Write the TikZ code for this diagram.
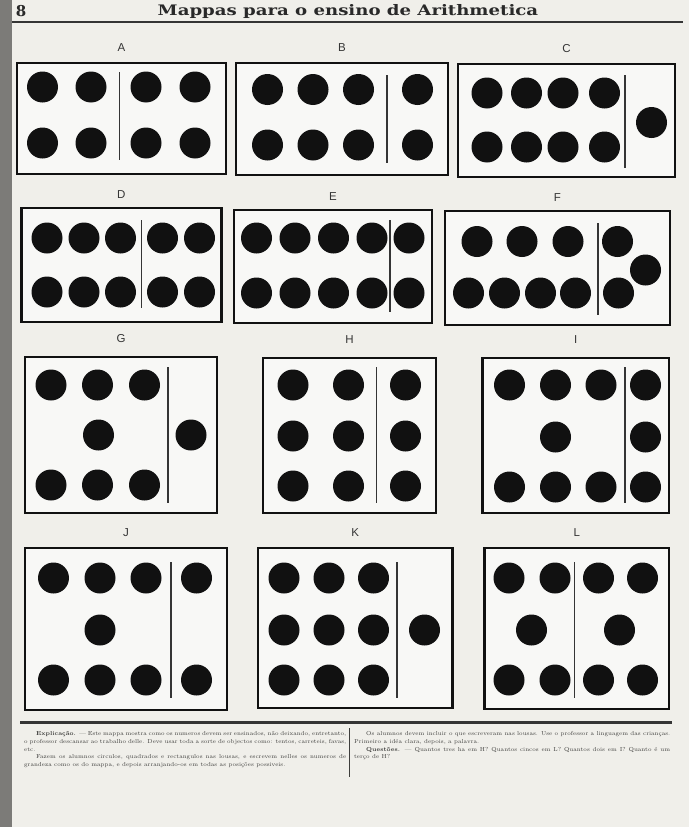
\documentclass[tikz,border=0pt]{standalone}
\usepackage{fontspec}
\usepackage{graphicx}
\newfontfamily\headfont{DejaVu Serif}
\newfontfamily\tagfont{Liberation Sans}
\usetikzlibrary{positioning}
\definecolor{paper}{HTML}{F0EFEA}
\definecolor{edge}{HTML}{7C7B78}
\definecolor{ink}{HTML}{111111}
\definecolor{print}{HTML}{3E3E3C}

\tikzset{
  panel/.style={draw=ink,line width=2.6pt,fill=white!55!paper,inner sep=0pt},
  tag/.style={font=\tagfont\fontsize{11.5}{13}\selectfont,text=ink!85,inner sep=0pt},
  dot/.style={circle,fill=ink,inner sep=0pt,minimum size=31pt},
  divider/.style={draw=ink!85,line width=1.1pt},
  note/.style={font=\fontsize{5.8}{7.9}\selectfont,text=print,align=justify,inner sep=0pt,anchor=north west}
}

\begin{document}
\begin{tikzpicture}[x=1pt,y=-1pt]
  \useasboundingbox (0,0) rectangle (689,827);
  \fill[paper] (0,0) rectangle (689,827);
  \fill[edge] (0,0) rectangle (12,827);

  % heading
  \node[font=\headfont\bfseries\fontsize{15}{17}\selectfont,text=ink!90] (page) at (21,11) {8};
  \node[font=\headfont\bfseries\fontsize{14.5}{16}\selectfont,text=ink!90] (title) at (348,11) {\scalebox{1.25}[1]{Mappas para o ensino de Arithmetica}};
  \draw[ink!85,line width=2pt] (12,22) -- (683,22);

  % row 1
  \node[panel,minimum width=209pt,minimum height=111pt] (boxA) at (121.5,118.5) {};
  \node[panel,minimum width=212pt,minimum height=112pt] (boxB) at (342,119) {};
  \node[panel,minimum width=217pt,minimum height=113pt] (boxC) at (566.5,120.5) {};
  \foreach \n in {A,B,C} \node[tag,above=10pt of box\n] (tag\n) {\n};

  \foreach \x in {42.5,91,146,195}{
    \foreach \y in {87,143}{\node[dot] (dA-\x-\y) at (\x,\y) {};}
  }
  \draw[divider] (119.5,72) -- (119.5,160);

  \foreach \x in {267.5,313,358.5,417.5}{
    \foreach \y in {89.5,145}{\node[dot] (dB-\x-\y) at (\x,\y) {};}
  }
  \draw[divider] (387,75) -- (387,163);

  \foreach \x in {487,526.5,563,604.5}{
    \foreach \y in {93,147}{\node[dot] (dC-\x-\y) at (\x,\y) {};}
  }
  \node[dot] (dCx) at (651.5,122.5) {};
  \draw[divider] (625,75) -- (625,168);

  % row 2
  \node[panel,minimum width=200pt,minimum height=114pt] (boxD) at (121.3,265) {};
  \node[panel,minimum width=198pt,minimum height=113pt] (boxE) at (333,266.5) {};
  \node[panel,minimum width=225pt,minimum height=114pt] (boxF) at (557.5,268) {};
  \foreach \n in {D,E,F} \node[tag,above=8pt of box\n] (tag\n) {\n};

  \foreach \x in {47,84,120.5,162.5,199.5}{
    \foreach \y in {238,292}{\node[dot] (dD-\x-\y) at (\x,\y) {};}
  }
  \draw[divider] (141.5,220) -- (141.5,308);

  \foreach \x in {256.5,295,333.5,372,409}{
    \foreach \y in {238,293}{\node[dot] (dE-\x-\y) at (\x,\y) {};}
  }
  \draw[divider] (390,220) -- (390,312);

  \foreach \x in {477,522,568,617.5}{\node[dot] (dFt-\x) at (\x,241.5) {};}
  \foreach \x in {468.5,504.5,540.5,575.5,618.5}{\node[dot] (dFb-\x) at (\x,293) {};}
  \node[dot] (dFx) at (645.5,270) {};
  \draw[divider] (598,223) -- (598,315);

  % row 3
  \node[panel,minimum width=192pt,minimum height=156pt] (boxG) at (121,435) {};
  \node[panel,minimum width=173pt,minimum height=155pt] (boxH) at (349.5,435.5) {};
  \node[panel,minimum width=186.5pt,minimum height=155pt] (boxI) at (575.8,435.5) {};
  \foreach \n in {G,H,I} \node[tag,above=13pt of box\n] (tag\n) {\n};

  \foreach \x in {51,97.5,144.5}{
    \foreach \y in {385,485}{\node[dot] (dG-\x-\y) at (\x,\y) {};}
  }
  \node[dot] (dGm) at (98.5,435) {};
  \node[dot] (dGx) at (191,435) {};
  \draw[divider] (168,367) -- (168,503);

  \foreach \x in {293,348.5,405.5}{
    \foreach \y in {385,436,486}{\node[dot] (dH-\x-\y) at (\x,\y) {};}
  }
  \draw[divider] (376.5,367) -- (376.5,503);

  \foreach \x in {509.5,555.5,601,645.5}{
    \foreach \y in {385,487}{\node[dot] (dI-\x-\y) at (\x,\y) {};}
  }
  \node[dot] (dIm) at (555.5,437) {};
  \node[dot] (dIx) at (645.5,437) {};
  \draw[divider] (625,367) -- (625,503);

  % row 4
  \node[panel,minimum width=202pt,minimum height=162pt] (boxJ) at (126,629) {};
  \node[panel,minimum width=194.6pt,minimum height=160pt] (boxK) at (355.3,628) {};
  \node[panel,minimum width=184.4pt,minimum height=161pt] (boxL) at (576.8,628.5) {};
  \foreach \n in {J,K,L} \node[tag,above=10pt of box\n] (tag\n) {\n};

  \foreach \x in {53.5,100,146,196.5}{
    \foreach \y in {578,680}{\node[dot] (dJ-\x-\y) at (\x,\y) {};}
  }
  \node[dot] (dJm) at (100,630) {};
  \draw[divider] (171,562) -- (171,698);

  \foreach \x in {284,329,373.5}{
    \foreach \y in {578,630,680}{\node[dot] (dK-\x-\y) at (\x,\y) {};}
  }
  \node[dot] (dKx) at (424.5,630) {};
  \draw[divider] (397,562) -- (397,698);

  \foreach \x in {509,555,598.5,642.5}{
    \foreach \y in {578,680}{\node[dot] (dL-\x-\y) at (\x,\y) {};}
  }
  \node[dot] (dLa) at (531.5,630) {};
  \node[dot] (dLb) at (619.5,630) {};
  \draw[divider] (574.5,562) -- (574.5,698);

  % explanation
  \draw[ink!85,line width=3pt] (20,722) -- (672,722);
  \draw[print,line width=.8pt] (349,728) -- (349,777);
  \node[note,text width=322pt] (expl) at (24,731) {\hspace*{12pt}\textbf{Explicação.} --- Este mappa mostra como os numeros devem ser ensinados, não deixando, entretanto, o professor descansar ao trabalho delle. Deve usar toda a sorte de objectos como: tentos, carreteis, favas, etc.\par
  \hspace*{12pt}Fazem os alumnos circulos, quadrados e rectangulos nas lousas, e escrevem nelles os numeros de grandeza como os do mappa, e depois arranjando-os em todas as posições possiveis.};
  \node[note,text width=316pt] (quest) at (354,731) {\hspace*{12pt}Os alumnos devem incluir o que escreveram nas lousas. Use o professor a linguagem das crianças. Primeiro a idéa clara, depois, a palavra.\par
  \hspace*{12pt}\textbf{Questões.} --- Quantos tres ha em H? Quantos cincos em L? Quantos dois em I? Quanto é um terço de H?};
\end{tikzpicture}
\end{document}
